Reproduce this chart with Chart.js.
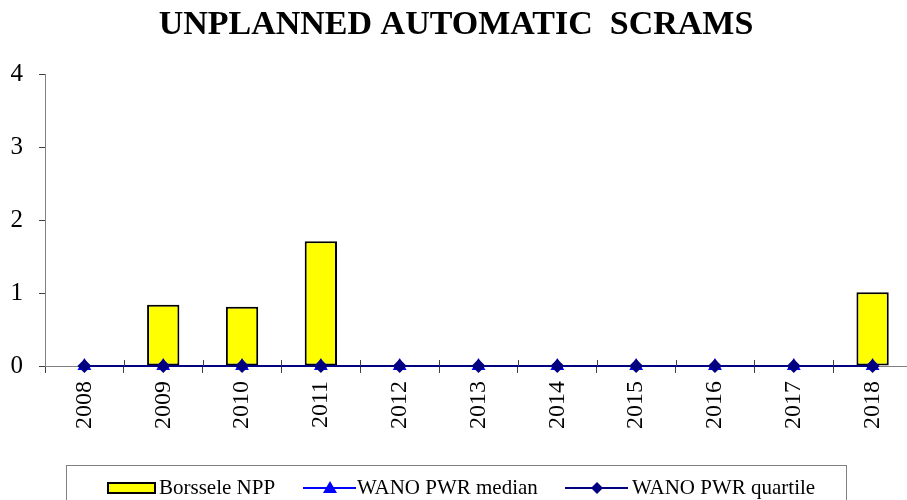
<!DOCTYPE html>
<html><head><meta charset="utf-8">
<script src="https://cdn.jsdelivr.net/npm/chart.js@4"></script>
<style>html,body{margin:0;padding:0;overflow:hidden;background:#fff}#wrap{width:920px;height:500px;position:relative}</style>
</head><body><div id="wrap"><canvas id="c"></canvas></div>
<script>
const categories = ['2008','2009','2010','2011','2012','2013','2014','2015','2016','2017','2018'];
const borsseleNPP = [0, 0.84, 0.81, 1.71, 0, 0, 0, 0, 0, 0, 1.01];
const wanoMedian = [0, 0, 0, 0, 0, 0, 0, 0, 0, 0, 0];
const wanoQuartile = [0, 0, 0, 0, 0, 0, 0, 0, 0, 0, 0];
const yTicks = [0, 1, 2, 3, 4];
const titleText = 'UNPLANNED AUTOMATIC  SCRAMS';
const seriesNames = ['Borssele NPP', 'WANO PWR median', 'WANO PWR quartile'];

const SERIF = '"Liberation Serif", "Times New Roman", serif';

const decor = {
  id: 'decor',
  afterDraw(chart) {
    const ctx = chart.ctx;
    ctx.save();
    // title
    ctx.fillStyle = '#000';
    ctx.font = 'bold 34px ' + SERIF;
    ctx.textAlign = 'center';
    ctx.textBaseline = 'alphabetic';
    ctx.fillText(titleText, 456, 34);
    // small tick part above x axis
    const xs = chart.scales.x, ys = chart.scales.y;
    const y0 = ys.getPixelForValue(0);
    ctx.strokeStyle = '#404040';
    ctx.lineWidth = 1;
    for (let i = 1; i < categories.length; i++) {
      const x = Math.round((xs.getPixelForValue(i - 1) + xs.getPixelForValue(i)) / 2) + 0.5;
      ctx.beginPath(); ctx.moveTo(x, y0 - 6); ctx.lineTo(x, y0); ctx.stroke();
    }
    // legend
    ctx.strokeStyle = '#808080';
    ctx.lineWidth = 1;
    ctx.strokeRect(66.5, 465.5, 780, 50);
    const ly = 488;
    ctx.font = '21px ' + SERIF;
    ctx.textAlign = 'left';
    ctx.textBaseline = 'middle';
    // item 1
    ctx.fillStyle = '#FFFF00';
    ctx.fillRect(108, ly - 5, 47, 10);
    ctx.strokeStyle = '#000'; ctx.lineWidth = 2;
    ctx.strokeRect(108, ly - 5, 47, 10);
    ctx.fillStyle = '#000';
    ctx.fillText(seriesNames[0], 159, ly);
    // item 2
    ctx.strokeStyle = '#0000FF'; ctx.lineWidth = 2;
    ctx.beginPath(); ctx.moveTo(303, ly); ctx.lineTo(356, ly); ctx.stroke();
    ctx.fillStyle = '#0000FF';
    ctx.beginPath(); ctx.moveTo(330, ly - 7); ctx.lineTo(337, ly + 5); ctx.lineTo(323, ly + 5); ctx.closePath(); ctx.fill();
    ctx.fillStyle = '#000';
    ctx.fillText(seriesNames[1], 357, ly);
    // item 3
    ctx.strokeStyle = '#000080'; ctx.lineWidth = 2;
    ctx.beginPath(); ctx.moveTo(565, ly); ctx.lineTo(628, ly); ctx.stroke();
    ctx.fillStyle = '#000080';
    ctx.beginPath(); ctx.moveTo(597, ly - 6); ctx.lineTo(603, ly); ctx.lineTo(597, ly + 6); ctx.lineTo(591, ly); ctx.closePath(); ctx.fill();
    ctx.fillStyle = '#000';
    ctx.fillText(seriesNames[2], 632, ly);
    ctx.restore();
  }
};

new Chart(document.getElementById('c'), {
  type: 'bar',
  data: {
    labels: categories,
    datasets: [
      { type: 'bar', label: seriesNames[0], data: borsseleNPP, backgroundColor: '#FFFF00', borderColor: '#000', borderWidth: 2, borderSkipped: false, barPercentage: 0.41, categoryPercentage: 1, order: 3 },
      { type: 'line', label: seriesNames[1], data: wanoMedian, clip: false, borderColor: '#0000FF', backgroundColor: '#0000FF', borderWidth: 2, pointStyle: 'triangle', pointRadius: 8, pointBorderWidth: 0, order: 2 },
      { type: 'line', label: seriesNames[2], data: wanoQuartile, clip: false, borderColor: '#000080', backgroundColor: '#000080', borderWidth: 2, pointStyle: 'rectRot', pointRadius: 7, pointBorderWidth: 0, order: 1 }
    ]
  },
  options: {
    responsive: true,
    maintainAspectRatio: false,
    animation: false,
    events: [],
    layout: { padding: { top: 74, right: 4, left: 0, bottom: 0 } },
    plugins: { legend: { display: false }, title: { display: false }, tooltip: { enabled: false } },
    scales: {
      x: {
        offset: true,
        grid: { display: true, drawOnChartArea: false, offset: true, tickLength: 7, color: '#404040', lineWidth: 1 },
        border: { display: true, color: '#808080', width: 1 },
        ticks: { minRotation: 90, maxRotation: 90, color: '#000', font: { family: SERIF, size: 24 }, padding: 8 },
        afterFit(s) { s.height = 134; }
      },
      y: {
        min: 0, max: 4,
        afterBuildTicks(s) { s.ticks = yTicks.map(v => ({ value: v })); },
        grid: { display: true, drawOnChartArea: false, tickLength: 6, color: '#404040', lineWidth: 1 },
        border: { display: true, color: '#808080', width: 1 },
        ticks: { color: '#000', font: { family: SERIF, size: 25 }, padding: 16 },
        afterFit(s) { s.width = 45; }
      }
    }
  },
  plugins: [decor]
});
</script>
</body></html>
